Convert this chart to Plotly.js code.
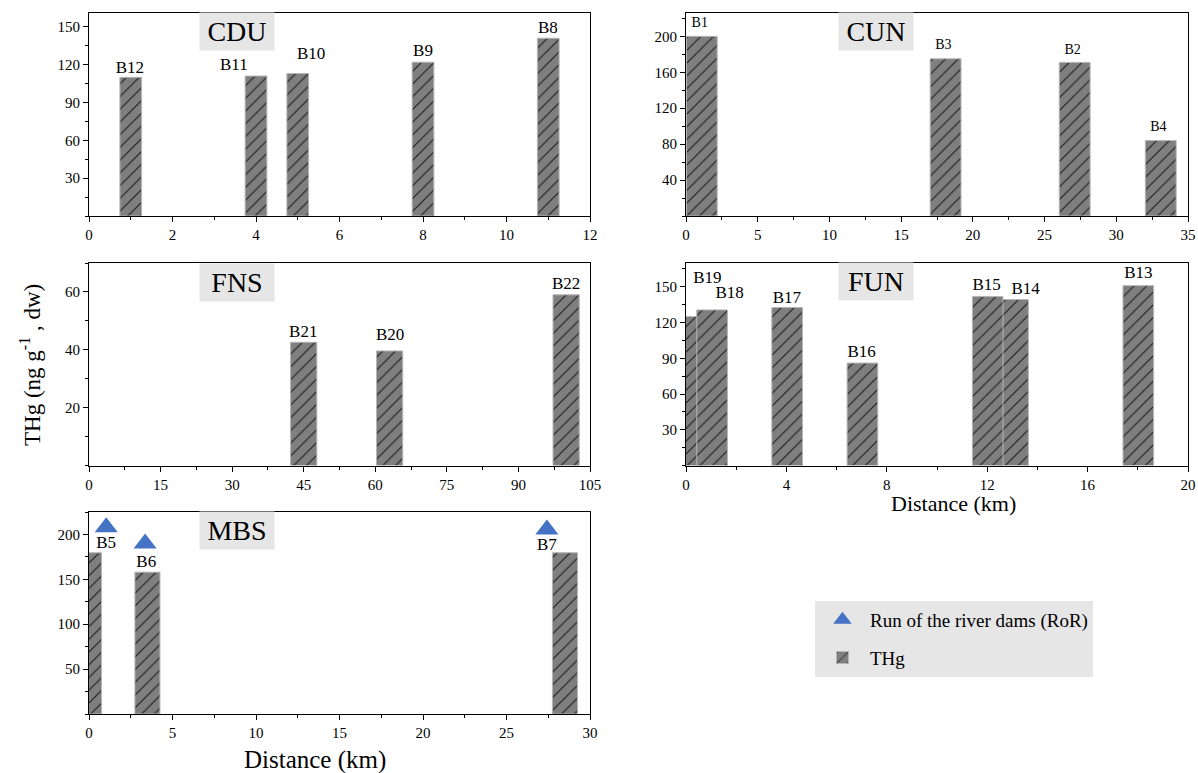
<!DOCTYPE html>
<html>
<head>
<meta charset="utf-8">
<script src="https://cdn.plot.ly/plotly-3.0.1.min.js"></script>
<style>html,body{margin:0;padding:0;background:#fff;}#chart{width:1198px;height:773px;}</style>
</head>
<body>
<div id="chart"></div>
<script>
// ---- data ----
const cduSites = ['B12', 'B11', 'B10', 'B9', 'B8'];
const cduDist = [1, 4, 5, 8, 11];
const cduTHg = [110, 111, 113, 122, 141];
const cduLabelX = [0.98, 3.47, 5.32, 8.0, 10.99];
const cduLabelY = [117, 119, 128, 130, 148.5];

const cunSites = ['B1', 'B3', 'B2', 'B4'];
const cunDist = [1.1, 18.1, 27.1, 33.1];
const cunTHg = [200, 175, 171, 84];
const cunLabelX = [0.96, 17.95, 26.96, 32.93];
const cunLabelY = [214, 190, 184, 98];

const fnsSites = ['B21', 'B20', 'B22'];
const fnsDist = [45, 63, 100];
const fnsTHg = [42.6, 39.6, 59];
const fnsLabelX = [44.9, 63.1, 100];
const fnsLabelY = [46, 45, 62.5];

const funSites = ['B19', 'B18', 'B17', 'B16', 'B14', 'B15', 'B13'];
const funDist = [0.2, 1.04, 4.03, 7.03, 13.03, 12.02, 18.02];
const funTHg = [125, 130.6, 132.6, 86, 139.3, 141.8, 151];
const funLabelX = [0.85, 1.74, 4.02, 7.0, 13.53, 11.98, 18.02];
const funLabelY = [157, 144.4, 139.6, 94.4, 147.2, 150.6, 161.2];

const mbsSites = ['B5', 'B6', 'B7'];
const mbsDist = [0, 3.5, 28.5];
const mbsTHg = [179.6, 158, 179.6];
const mbsLabelX = [1.03, 3.43, 27.42];
const mbsLabelY = [190, 169, 187];

const damX = [1.03, 3.36, 27.42];
const damY = [208, 190, 205.5];

const panelNames = ['CDU', 'CUN', 'FNS', 'FUN', 'MBS'];

// ---- helpers ----
const W = 1198, H = 773;
const FONT = 'Liberation Serif';
function px(x) { return x / W; }
function py(y) { return 1 - y / H; }

function barTrace(x, y, width, axis, showlegend) {
  return {
    type: 'bar', x: x, y: y, width: width,
    xaxis: 'x' + axis, yaxis: 'y' + axis,
    name: 'THg', showlegend: showlegend, legendrank: 2, legendgroup: 'thg',
    marker: {
      color: '#7f7f7f',
      line: { color: '#b5b5b5', width: 1 },
      pattern: { shape: '/', fgcolor: '#1a1a1a', bgcolor: '#7f7f7f', size: 9, solidity: 0.12 }
    },
    hoverinfo: 'skip'
  };
}
function labelTrace(x, y, text, axis, size) {
  return {
    type: 'scatter', mode: 'text', x: x, y: y, text: text,
    xaxis: 'x' + axis, yaxis: 'y' + axis,
    textposition: 'middle center', showlegend: false, cliponaxis: false,
    textfont: { family: FONT, size: size, color: '#000' }, hoverinfo: 'skip'
  };
}

const traces = [
  barTrace(cduDist, cduTHg, 0.52, '', true),
  labelTrace(cduLabelX, cduLabelY, cduSites, '', 17),
  barTrace(cunDist, cunTHg, 2.15, '2', false),
  labelTrace(cunLabelX, cunLabelY, cunSites, '2', 14),
  barTrace(fnsDist, fnsTHg, 5.5, '3', false),
  labelTrace(fnsLabelX, fnsLabelY, fnsSites, '3', 17),
  barTrace(funDist, funTHg, 1.22, '4', false),
  labelTrace(funLabelX, funLabelY, funSites, '4', 17),
  barTrace(mbsDist, mbsTHg, 1.5, '5', false),
  labelTrace(mbsLabelX, mbsLabelY, mbsSites, '5', 17),
  {
    type: 'scatter', mode: 'markers', x: damX, y: damY,
    xaxis: 'x5', yaxis: 'y5', name: 'Run of the river dams (RoR)',
    legendrank: 1, legendgroup: 'dam', cliponaxis: false,
    marker: { symbol: 'triangle-up', size: 20, color: '#4472C4' }, hoverinfo: 'skip'
  }
];

function xAx(dom, range, dtick, anchor) {
  return {
    domain: dom, range: range, anchor: anchor, dtick: dtick, tick0: 0,
    showline: true, mirror: true, linecolor: '#000', linewidth: 1,
    ticks: 'outside', ticklen: 5, tickcolor: '#000', showgrid: false, zeroline: false,
    minor: { ticks: 'outside', ticklen: 3, dtick: dtick / 2, tick0: 0, tickcolor: '#000', showgrid: false },
    tickfont: { family: FONT, size: 15, color: '#000' }, fixedrange: true
  };
}
function yAx(dom, range, tickvals, minorDtick, anchor) {
  return {
    domain: dom, range: range, anchor: anchor, tickvals: tickvals,
    showline: true, mirror: true, linecolor: '#000', linewidth: 1,
    ticks: 'outside', ticklen: 5, tickcolor: '#000', showgrid: false, zeroline: false,
    minor: { ticks: 'outside', ticklen: 3, dtick: minorDtick, tick0: 0, tickcolor: '#000', showgrid: false },
    tickfont: { family: FONT, size: 15, color: '#000' }, fixedrange: true
  };
}

const xL = [px(89), px(590)], xR = [px(686), px(1188)];
const yT = [py(216), py(13)], yM = [py(465.5), py(263)], yB = [py(714), py(512)];

const boxCenters = [[237, 31.5], [876, 32], [237, 282], [876, 281.5], [237, 530]];
const annotations = panelNames.map((n, i) => ({
  text: n, xref: 'paper', yref: 'paper',
  x: px(boxCenters[i][0]), y: py(boxCenters[i][1]), xanchor: 'center', yanchor: 'middle',
  showarrow: false, bgcolor: '#e6e6e6', width: 72, height: 35,
  font: { family: FONT, size: 28, color: '#000' }
}));
annotations.push({
  text: 'THg (ng g<sup>-1</sup> , dw)', xref: 'paper', yref: 'paper',
  x: px(30), y: py(365), textangle: -90, showarrow: false,
  xanchor: 'center', yanchor: 'middle', font: { family: FONT, size: 23, color: '#000' }
});
annotations.push({
  text: 'Distance (km)', xref: 'paper', yref: 'paper',
  x: px(953), y: py(503), showarrow: false, xanchor: 'center', yanchor: 'middle',
  font: { family: FONT, size: 22, color: '#000' }
});
annotations.push({
  text: 'Distance (km)', xref: 'paper', yref: 'paper',
  x: px(315), y: py(760), showarrow: false, xanchor: 'center', yanchor: 'middle',
  font: { family: FONT, size: 25, color: '#000' }
});

const layout = {
  width: W, height: H,
  margin: { l: 0, r: 0, t: 0, b: 0 },
  paper_bgcolor: '#fff', plot_bgcolor: '#fff',
  font: { family: FONT, color: '#000' },
  barmode: 'overlay',
  showlegend: true,
  legend: {
    x: px(815), y: py(601), xanchor: 'left', yanchor: 'top',
    bgcolor: '#e6e6e6', borderwidth: 0,
    font: { family: FONT, size: 19, color: '#000' },
    traceorder: 'grouped', tracegroupgap: 10, itemwidth: 45
  },
  xaxis: xAx(xL, [0, 12], 2, 'y'),
  yaxis: yAx(yT, [0, 161], [30, 60, 90, 120, 150], 15, 'x'),
  xaxis2: xAx(xR, [0, 35], 5, 'y2'),
  yaxis2: yAx(yT, [0, 226], [40, 80, 120, 160, 200], 20, 'x2'),
  xaxis3: xAx(xL, [0, 105], 15, 'y3'),
  yaxis3: yAx(yM, [0, 70], [20, 40, 60], 10, 'x3'),
  xaxis4: xAx(xR, [0, 20], 4, 'y4'),
  yaxis4: yAx(yM, [0, 170], [30, 60, 90, 120, 150], 15, 'x4'),
  xaxis5: xAx(xL, [0, 30], 5, 'y5'),
  yaxis5: yAx(yB, [0, 225], [50, 100, 150, 200], 25, 'x5'),
  annotations: annotations
};

Plotly.newPlot('chart', traces, layout, { displayModeBar: false, staticPlot: true });
</script>
</body>
</html>
